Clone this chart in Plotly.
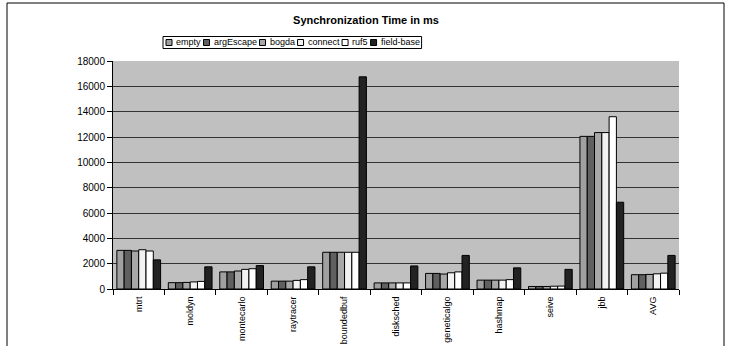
import plotly.graph_objects as go

categories = ["mtrt", "moldyn", "montecarlo", "raytracer", "boundedbuf", "disksched",
              "geneticalgo", "hashmap", "seive", "jbb", "AVG"]

empty      = [3050, 500, 1350, 620, 2900, 480, 1230, 700, 200, 12050, 1130]
argEscape  = [3050, 500, 1350, 620, 2900, 480, 1230, 700, 200, 12050, 1130]
bogda      = [3000, 520, 1420, 620, 2900, 480, 1180, 700, 200, 12350, 1150]
connect    = [3100, 560, 1550, 680, 2900, 480, 1280, 700, 220, 12350, 1200]
ruf5       = [3000, 600, 1600, 740, 2900, 480, 1350, 740, 230, 13600, 1250]
field_base = [2300, 1750, 1850, 1750, 16750, 1820, 2650, 1670, 1550, 6850, 2650]

series_names = ["empty", "argEscape", "bogda", "connect", "ruf5", "field-base"]
series_vals = [empty, argEscape, bogda, connect, ruf5, field_base]
series_colors = ["#a0a0a0", "#606060", "#a8a8a8", "#f2f2f2", "#ffffff", "#222222"]

y_ticks = list(range(0, 18001, 2000))

# layout geometry (pixels)
W, H = 732, 346
L, R, T, B = 113, 53, 61, 57
PW, PH = W - L - R, H - T - B


def px(x):
    return (x - L) / PW


def py(y):
    return (H - B - y) / PH


# approximate Arial advance widths (per 1000 em) for legend layout
ARIAL = {'a': 556, 'b': 556, 'c': 500, 'd': 556, 'e': 556, 'f': 278, 'g': 556, 'i': 222,
         'l': 222, 'm': 833, 'n': 556, 'o': 556, 'p': 556, 'r': 333, 's': 500, 't': 278,
         'u': 556, 'y': 500, 'E': 667, '5': 556, '-': 333}


def text_w(s, size):
    return sum(ARIAL.get(c, 556) for c in s) * size / 1000.0


fig = go.Figure()
for name, vals, col in zip(series_names, series_vals, series_colors):
    fig.add_trace(go.Bar(
        x=categories, y=vals, name=name, showlegend=False,
        marker=dict(color=col, line=dict(color="#000000", width=1)),
    ))

# manual compact legend (Excel style)
LEG_FONT = 9
leg_left, leg_pad, sw, st_gap, item_gap = 163, 3, 6, 3, 4
leg_top, leg_bot = 36.5, 48.5
leg_y = (leg_top + leg_bot) / 2

shapes = [
    dict(type="rect", xref="paper", yref="paper",
         x0=px(7), x1=px(724), y0=py(352), y1=py(3),
         line=dict(color="#000000", width=1), fillcolor="rgba(0,0,0,0)", layer="below"),
]
annotations = []
items = []
cx = leg_left + leg_pad
for name, col in zip(series_names, series_colors):
    items.append((name, col, cx, cx + sw + st_gap))
    cx += sw + st_gap + text_w(name, LEG_FONT) + item_gap
leg_right = cx - item_gap + leg_pad
shapes.append(dict(type="rect", xref="paper", yref="paper",
                   x0=px(leg_left), x1=px(leg_right), y0=py(leg_bot), y1=py(leg_top),
                   line=dict(color="#000000", width=1), fillcolor="white"))
for name, col, sx, tx in items:
    shapes.append(dict(type="rect", xref="paper", yref="paper",
                       x0=px(sx), x1=px(sx + sw), y0=py(leg_y + 3), y1=py(leg_y - 3),
                       line=dict(color="#000000", width=1), fillcolor=col))
    annotations.append(dict(text=name, xref="paper", yref="paper", x=px(tx - 1), y=py(leg_y),
                            xanchor="left", yanchor="middle", showarrow=False,
                            font=dict(size=LEG_FONT, color="#000")))

fig.update_layout(
    width=W, height=H,
    margin=dict(l=L, r=R, t=T, b=B),
    paper_bgcolor="white",
    plot_bgcolor="#c0c0c0",
    barmode="group",
    bargap=0.15,
    bargroupgap=0,
    font=dict(family="Liberation Sans, Arial, sans-serif", size=9, color="#000000"),
    title=dict(text="<b>Synchronization Time in ms</b>", x=0.5, xanchor="center",
               y=1 - 20 / H, yanchor="middle",
               font=dict(size=11, family="Liberation Sans, Arial, sans-serif", color="#000")),
    showlegend=False,
    shapes=shapes,
    annotations=annotations,
)

fig.update_xaxes(
    type="category", tickson="boundaries", ticks="outside", ticklen=5,
    tickcolor="#000", showline=True, linecolor="#000", linewidth=1,
    tickangle=-90, showgrid=False, tickfont=dict(size=9), automargin=False,
    ticklabelstandoff=3,
)
fig.update_yaxes(
    range=[0, 18000], tickvals=y_ticks, ticktext=[str(v) for v in y_ticks],
    ticks="outside", ticklen=5, tickcolor="#000", showline=True, linecolor="#000",
    linewidth=1, showgrid=True, gridcolor="#333333", gridwidth=1,
    tickfont=dict(size=10), zeroline=False, automargin=False,
)

fig.write_html("out.html")
